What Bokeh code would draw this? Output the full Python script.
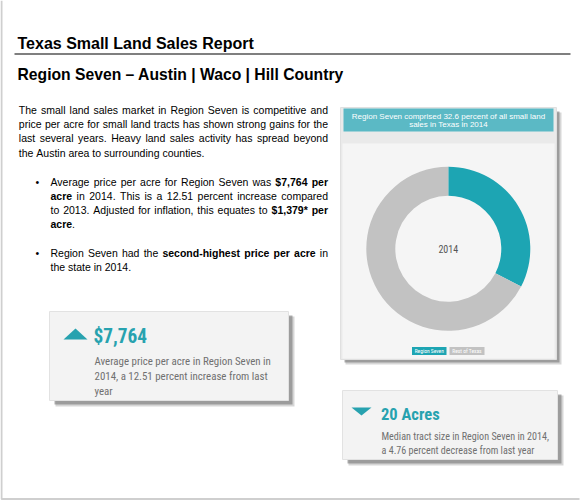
import math
from bokeh.plotting import figure
from bokeh.models import Range1d, ColumnDataSource
from bokeh.core.properties import value
from bokeh.embed import file_html
from bokeh.resources import INLINE

# ---------------- data ----------------
share_labels = ["Region Seven", "Rest of Texas"]
share_values = [32.6, 67.4]
share_colors = ["#1da5b3", "#c2c2c2"]
chart_year = "2014"

title_text = "Texas Small Land Sales Report"
subtitle_text = "Region Seven \u2013 Austin | Waco | Hill Country"
chart_title_lines = ["Region Seven comprised 32.6 percent of all small land",
                     "sales in Texas in 2014"]
intro_lines = [
    ([("The small land sales market in Region Seven is competitive and", 0)], True),
    ([("price per acre for small land tracts has shown strong gains for the", 0)], True),
    ([("last several years. Heavy land sales activity has spread beyond", 0)], True),
    ([("the Austin area to surrounding counties.", 0)], False),
]
bullet1_lines = [
    ([("Average price per acre for Region Seven was ", 0), ("$7,764 per", 1)], True),
    ([("acre", 1), (" in 2014. This is a 12.51 percent increase compared", 0)], True),
    ([("to 2013. Adjusted for inflation, this equates to ", 0), ("$1,379* per", 1)], True),
    ([("acre", 1), (".", 0)], False),
]
bullet2_lines = [
    ([("Region Seven had the ", 0), ("second-highest price per acre", 1), (" in", 0)], True),
    ([("the state in 2014.", 0)], False),
]
card1_value = "$7,764"
card1_lines = ["Average price per acre in Region Seven in",
               "2014, a 12.51 percent increase from last",
               "year"]
card2_value = "20 Acres"
card2_lines = ["Median tract size in Region Seven in 2014,",
               "a 4.76 percent decrease from last year"]

# ---------------- font metrics (Arial / Liberation Sans) ----------------
REG = {' ': 278, '!': 278, '$': 556, '%': 889, "'": 191, '(': 333, ')': 333, '*': 389,
       ',': 278, '-': 333, '.': 278, '/': 278, ':': 278, ';': 278, '?': 556,
       'A': 667, 'B': 667, 'C': 722, 'D': 722, 'E': 667, 'F': 611, 'G': 778, 'H': 722,
       'I': 278, 'J': 500, 'K': 667, 'L': 556, 'M': 833, 'N': 722, 'O': 778, 'P': 667,
       'Q': 778, 'R': 722, 'S': 667, 'T': 611, 'U': 722, 'V': 667, 'W': 944, 'X': 667,
       'Y': 667, 'Z': 611,
       'a': 556, 'b': 556, 'c': 500, 'd': 556, 'e': 556, 'f': 278, 'g': 556, 'h': 556,
       'i': 222, 'j': 222, 'k': 500, 'l': 222, 'm': 833, 'n': 556, 'o': 556, 'p': 556,
       'q': 556, 'r': 333, 's': 500, 't': 278, 'u': 556, 'v': 500, 'w': 722, 'x': 500,
       'y': 500, 'z': 500}
BOLD = {' ': 278, '!': 333, '$': 556, '%': 889, "'": 238, '(': 333, ')': 333, '*': 389,
        ',': 278, '-': 333, '.': 278, '/': 278, ':': 333, ';': 333, '?': 611,
        'A': 722, 'B': 722, 'C': 722, 'D': 722, 'E': 667, 'F': 611, 'G': 778, 'H': 722,
        'I': 278, 'J': 556, 'K': 722, 'L': 611, 'M': 833, 'N': 722, 'O': 778, 'P': 667,
        'Q': 778, 'R': 722, 'S': 667, 'T': 611, 'U': 722, 'V': 667, 'W': 944, 'X': 667,
        'Y': 667, 'Z': 611,
        'a': 556, 'b': 611, 'c': 556, 'd': 611, 'e': 556, 'f': 333, 'g': 611, 'h': 611,
        'i': 278, 'j': 278, 'k': 556, 'l': 278, 'm': 889, 'n': 611, 'o': 611, 'p': 611,
        'q': 611, 'r': 389, 's': 556, 't': 333, 'u': 611, 'v': 556, 'w': 778, 'x': 556,
        'y': 556, 'z': 500}


def tw(s, bold, size):
    t = BOLD if bold else REG
    return sum(t.get(c, 556) for c in s) * size / 1000.0


def Y(sy):
    return 500 - sy


def BY(sy, size):
    # baseline position corrected for the renderer's baseline offset
    return 500 - (sy - 0.42 * size)


W, H = 580, 500
p = figure(width=W, height=H, x_range=Range1d(0, W), y_range=Range1d(0, H),
           output_backend="svg", toolbar_location=None, min_border=0)
p.axis.visible = False
p.grid.visible = False
p.outline_line_color = None
p.background_fill_color = "white"
p.border_fill_color = "white"

SANS = value("Liberation Sans")
NARROW = value("'Liberation Sans Narrow', 'Roboto Condensed', 'DejaVu Sans Condensed', 'Liberation Sans'")
TEXT_SIZE = 10.5


def box(x0, x1, y0, y1, fill, line=None, alpha=1.0):
    p.quad(left=[x0], right=[x1], top=[Y(y0)], bottom=[Y(y1)], fill_color=fill,
           fill_alpha=alpha, line_color=line, line_width=1)


# page frame (left and bottom edges of the scanned page)
p.line(x=[1, 1, 579], y=[Y(0), Y(498.5), Y(498.5)], line_color="#cfcfcf", line_width=2)

# ---------------- heading ----------------
p.text(x=[17], y=[BY(49.5, 16)], text=[title_text], text_font=SANS, text_font_size="16px",
       text_font_style="bold", text_color="black", text_baseline="alphabetic")
p.line(x=[14, 570], y=[Y(53.5), Y(53.5)], line_color="black", line_width=1.2)
p.text(x=[17], y=[BY(81, 15.7)], text=[subtitle_text], text_font=SANS, text_font_size="15.7px",
       text_font_style="bold", text_color="black", text_baseline="alphabetic")

# ---------------- justified paragraphs ----------------
reg_pieces = {"x": [], "y": [], "t": []}
bold_pieces = {"x": [], "y": [], "t": []}


def place_line(runs, justify, x0, x1, sy):
    words, cur = [], []
    for text, b in runs:
        parts = text.split(" ")
        for i, part in enumerate(parts):
            if i > 0 and cur:
                words.append(cur)
                cur = []
            if part:
                cur.append((part, b))
    if cur:
        words.append(cur)
    widths = [sum(tw(s, b, TEXT_SIZE) for s, b in w) for w in words]
    if justify and len(words) > 1:
        gap = (x1 - x0 - sum(widths)) / (len(words) - 1)
    else:
        gap = tw(" ", 0, TEXT_SIZE)
    x = x0
    for w, wd in zip(words, widths):
        xx = x
        for s, b in w:
            d = bold_pieces if b else reg_pieces
            d["x"].append(xx)
            d["y"].append(BY(sy, TEXT_SIZE))
            d["t"].append(s)
            xx += tw(s, b, TEXT_SIZE)
        x += wd + gap


for i, (runs, j) in enumerate(intro_lines):
    place_line(runs, j, 18.3, 327.5, 114.3 + 14.05 * i)
for i, (runs, j) in enumerate(bullet1_lines):
    place_line(runs, j, 50, 327.5, 185.8 + 14.05 * i)
for i, (runs, j) in enumerate(bullet2_lines):
    place_line(runs, j, 50, 327.5, 256.5 + 14.05 * i)

p.text(x="x", y="y", text="t", source=ColumnDataSource(reg_pieces), text_font=SANS,
       text_font_size=f"{TEXT_SIZE}px", text_color="black", text_baseline="alphabetic")
p.text(x="x", y="y", text="t", source=ColumnDataSource(bold_pieces), text_font=SANS,
       text_font_size=f"{TEXT_SIZE}px", text_font_style="bold", text_color="black",
       text_baseline="alphabetic")
p.text(x=[35, 35], y=[BY(185.8, TEXT_SIZE), BY(256.5, TEXT_SIZE)], text=["\u2022", "\u2022"],
       text_font=SANS, text_font_size=f"{TEXT_SIZE}px", text_color="black",
       text_baseline="alphabetic")

# ---------------- donut panel ----------------
box(345, 561, 112, 364, "#8a8a8a", alpha=0.35)
box(344, 559, 111, 362, "#6e6e6e", alpha=0.55)
box(340, 556, 107, 359, "#eaeaea", line="#e0e0e0")
box(343, 553, 108, 131, "#5bb9c5")
box(342, 554, 143, 358, "#f5f5f5")
for i, line in enumerate(chart_title_lines):
    p.text(x=[448], y=[BY(119 + 8.8 * i, 8)], text=[line], text_font=SANS, text_font_size="8px",
           text_color="white", text_align="center", text_baseline="alphabetic")

total = sum(share_values)
starts, ends = [], []
acc = 0.0
for v in share_values:
    starts.append(math.pi / 2 - 2 * math.pi * acc / total)
    acc += v
    ends.append(math.pi / 2 - 2 * math.pi * acc / total)
donut = ColumnDataSource(dict(x=[447.8] * len(share_values), y=[Y(248.3)] * len(share_values),
                              start=starts, end=ends, color=share_colors, label=share_labels))
p.annular_wedge(x="x", y="y", inner_radius=53, outer_radius=82, start_angle="start",
                end_angle="end", direction="clock", fill_color="color", line_color=None,
                source=donut)
p.text(x=[447.8], y=[Y(248.3)], text=[chart_year], text_font=NARROW, text_font_size="10px",
       text_color="#555555", text_align="center", text_baseline="middle")

# legend chips
leg_x = [411.5, 449]
leg_w = [34.5, 35]
for lx, lw, lab, col in zip(leg_x, leg_w, share_labels, share_colors):
    box(lx, lx + lw, 346.5, 354.5, col)
    p.text(x=[lx + lw / 2], y=[Y(350.7)], text=[lab], text_font=NARROW, text_font_size="5.5px",
           text_color="white", text_align="center", text_baseline="middle")

# ---------------- card 1 ----------------
box(55, 294, 316, 406, "#8a8a8a", alpha=0.35)
box(54, 292, 315, 404, "#6e6e6e", alpha=0.55)
box(49, 288, 311, 400, "#f3f3f3", line="#e2e2e2")
p.patch(x=[63, 87, 75], y=[Y(339), Y(339), Y(328)], fill_color="#27a2af", line_color=None)
p.text(x=[93], y=[BY(344.5, 19.3)], text=[card1_value], text_font=NARROW, text_font_size="19.3px",
       text_font_style="bold", text_color="#27a2af", text_baseline="alphabetic")
for i, line in enumerate(card1_lines):
    p.text(x=[94], y=[BY(365.7 + 15 * i, 10.9)], text=[line], text_font=NARROW,
           text_font_size="10.9px", text_color="#707070", text_baseline="alphabetic")

# ---------------- card 2 ----------------
box(348, 563, 395, 465, "#8a8a8a", alpha=0.35)
box(347, 561, 394, 463, "#6e6e6e", alpha=0.55)
box(342, 557, 390, 459, "#f3f3f3", line="#e2e2e2")
p.patch(x=[351, 371, 361], y=[Y(407), Y(407), Y(415)], fill_color="#27a2af", line_color=None)
p.text(x=[380.5], y=[BY(421, 16.5)], text=[card2_value], text_font=NARROW, text_font_size="16.5px",
       text_font_style="bold", text_color="#27a2af", text_baseline="alphabetic")
for i, line in enumerate(card2_lines):
    p.text(x=[381], y=[BY(440.5 + 14 * i, 10.1)], text=[line], text_font=NARROW,
           text_font_size="10.1px", text_color="#707070", text_baseline="alphabetic")

open("out.html", "w").write(file_html(p, INLINE))
